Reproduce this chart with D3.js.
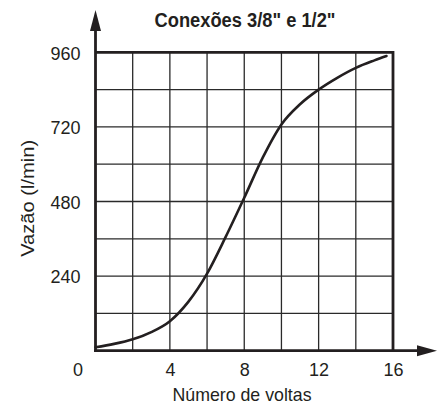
<!DOCTYPE html>
<html><head><meta charset="utf-8">
<script src="https://cdn.jsdelivr.net/npm/d3@7"></script>
<style>
html,body{margin:0;padding:0;background:#fff;}
svg{display:block;}
text{font-family:"Liberation Sans",Arial,sans-serif;fill:#231f20;}
</style></head>
<body>
<script>
const turns = [0,1,2,3,4,5,6,7,8,9,10,11,12,13,14,15,15.65];
const flow  = [11,22,37,60,95,158,248,366,492,622,728,793,840,878,910,934,948];
const xTicks = [4,8,12,16];
const yTicks = [240,480,720,960];
const xGrid = [2,4,6,8,10,12,14];
const yGrid = [120,240,360,480,600,720,840];
const title = 'Conexões 3/8" e 1/2"';
const xTitle = 'Número de voltas';
const yTitle = 'Vazão (l/min)';

const W = 442, H = 403;
const x0 = 95.5, x1 = 393, y0 = 350.7, y1 = 52.3;
const ink = '#231f20';
const svg = d3.select('body').append('svg').attr('width',W).attr('height',H);
const x = d3.scaleLinear().domain([0,16]).range([x0,x1]);
const y = d3.scaleLinear().domain([0,960]).range([y0,y1]);

// grid
svg.append('g').selectAll('line').data(xGrid).join('line')
  .attr('x1',d=>x(d)).attr('x2',d=>x(d)).attr('y1',y(0)).attr('y2',y(960))
  .attr('stroke','#2a2a2a').attr('stroke-width',1.3);
svg.append('g').selectAll('line').data(yGrid).join('line')
  .attr('y1',d=>y(d)).attr('y2',d=>y(d)).attr('x1',x(0)).attr('x2',x(16))
  .attr('stroke','#2a2a2a').attr('stroke-width',1.3);

// top and right border
svg.append('path').attr('d',`M${x(0)},${y(960)}H${x(16)}V${y(0)}`)
  .attr('fill','none').attr('stroke',ink).attr('stroke-width',2.8);

// axes lines with arrows
svg.append('line').attr('x1',x(0)).attr('x2',x(0)).attr('y1',y(0)+1.4).attr('y2',24)
  .attr('stroke',ink).attr('stroke-width',2.8);
svg.append('path').attr('d',`M${x(0)},10L${x(0)-5.5},31L${x(0)+5.5},31Z`).attr('fill',ink);
svg.append('line').attr('x1',x(0)-1.4).attr('x2',425).attr('y1',y(0)).attr('y2',y(0))
  .attr('stroke',ink).attr('stroke-width',2.8);
svg.append('path').attr('d',`M437,${y(0)}L417,${y(0)-5.5}L417,${y(0)+5.5}Z`).attr('fill',ink);

// curve
const line = d3.line().x(d=>x(d[0])).y(d=>y(d[1])).curve(d3.curveMonotoneX);
svg.append('path').datum(turns.map((t,i)=>[t,flow[i]])).attr('d',line)
  .attr('fill','none').attr('stroke',ink).attr('stroke-width',2.6).attr('stroke-linecap','round');

// tick labels via axes
const ya = svg.append('g').attr('transform',`translate(${x(0)},0)`)
  .call(d3.axisLeft(y).tickValues(yTicks).tickSize(0).tickPadding(15));
ya.select('.domain').remove();
ya.selectAll('text').attr('font-size',18).attr('fill',ink).attr('dy','0.38em')
  .style('font-family','"Liberation Sans",Arial,sans-serif');
const xa = svg.append('g').attr('transform',`translate(0,${y(0)})`)
  .call(d3.axisBottom(x).tickValues(xTicks).tickSize(0).tickPadding(0));
xa.select('.domain').remove();
xa.selectAll('text').attr('font-size',18).attr('fill',ink).attr('dy',null).attr('y',25)
  .style('font-family','"Liberation Sans",Arial,sans-serif');

svg.append('text').attr('x',78).attr('y',376).attr('text-anchor','middle')
  .attr('font-size',18).text('0');

svg.append('text').attr('x',245).attr('y',27).attr('text-anchor','middle')
  .attr('font-size',19.5).attr('font-weight','bold')
  .attr('textLength',181).attr('lengthAdjust','spacingAndGlyphs').text(title);
svg.append('text').attr('x',242).attr('y',400.5).attr('text-anchor','middle')
  .attr('font-size',18.5).attr('textLength',139).attr('lengthAdjust','spacingAndGlyphs').text(xTitle);
svg.append('text').attr('transform','translate(33.5,198.3) rotate(-90)').attr('text-anchor','middle')
  .attr('font-size',18.5).attr('textLength',117).attr('lengthAdjust','spacingAndGlyphs').text(yTitle);
</script>
</body></html>
